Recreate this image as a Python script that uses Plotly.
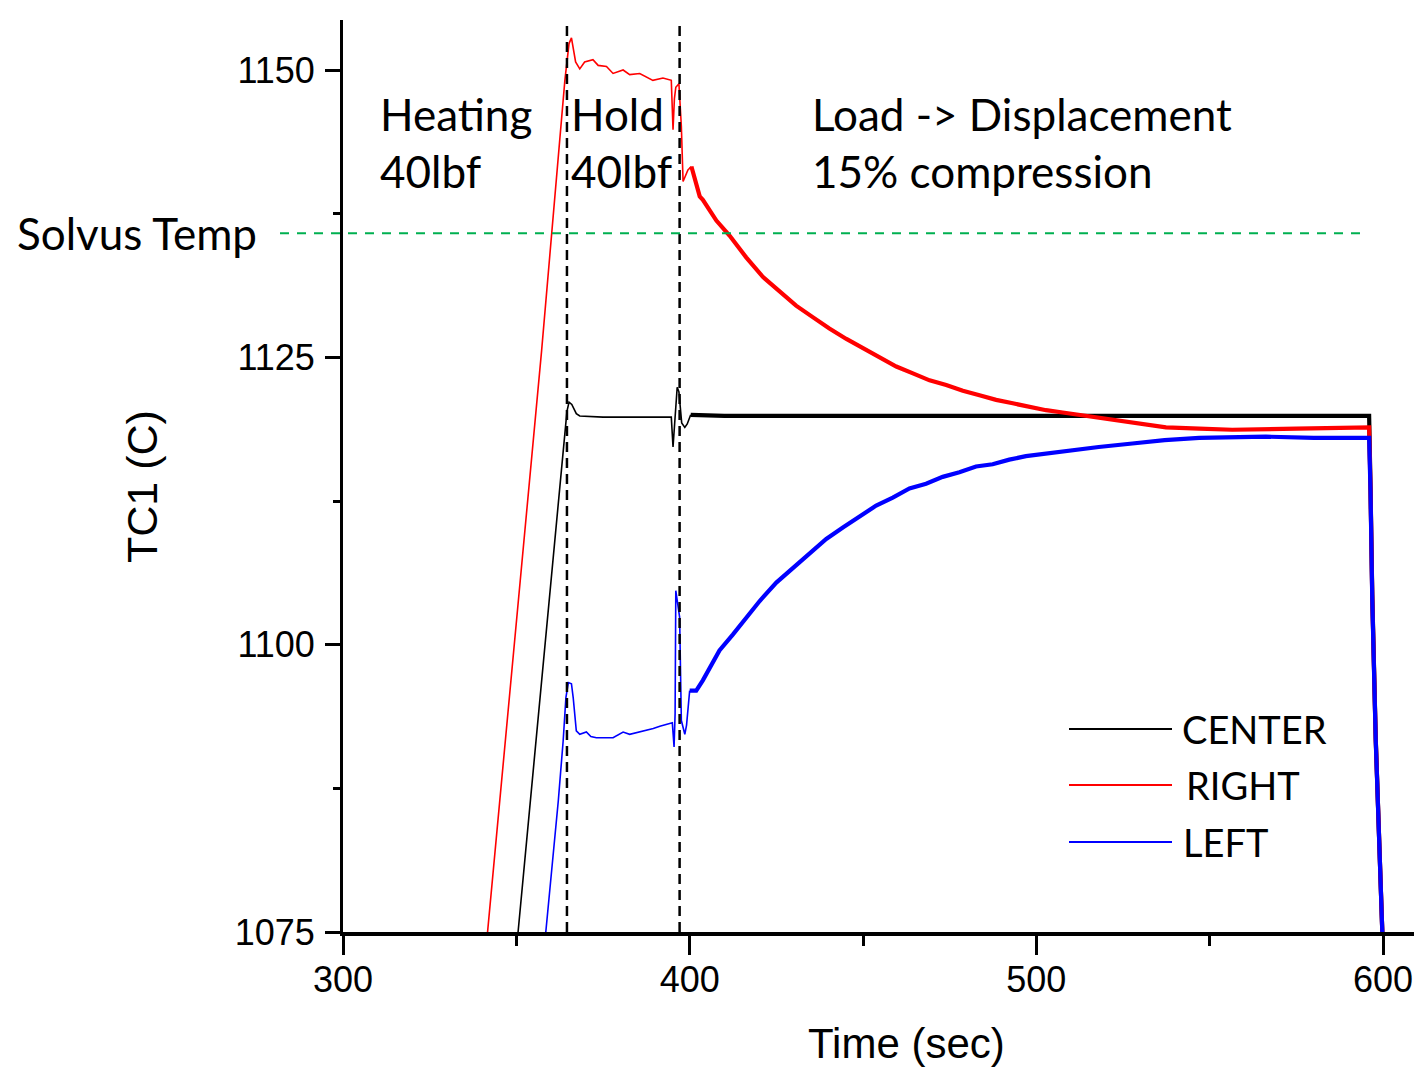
import plotly.graph_objects as go

# ---------------- data ----------------
series_names = ["CENTER", "RIGHT", "LEFT"]
series_colors = ["#000000", "#FF0000", "#0000FF"]

# CENTER: ramp + hold (thin) and load + cool-down (noisy band)
center_t_hold = [350.5, 364.6, 365.2, 366.0, 367.3, 368.3, 375.0, 385.0, 394.7, 395.2, 395.6,
                 396.4, 396.9, 397.3, 397.7, 398.6, 399.3, 400.3]
center_v_hold = [1075.0, 1120.3, 1121.1, 1120.9, 1120.1, 1119.9, 1119.8, 1119.8, 1119.8, 1117.2, 1119.0,
                 1122.4, 1122.0, 1120.4, 1119.3, 1118.9, 1119.2, 1120.0]
center_t_load = [400.3, 410.0, 450.0, 500.0, 550.0, 596.0, 596.4, 596.9, 597.9, 598.8, 599.8]
center_v_load = [1120.0, 1119.9, 1119.9, 1119.9, 1119.9, 1119.9, 1113.7, 1104.4, 1091.9, 1082.6, 1075.0]

# RIGHT
right_t_hold = [341.7, 357.3, 364.0, 364.8, 365.2, 365.9, 366.4, 367.1, 368.3, 369.7, 372.1, 373.6,
                376.0, 377.9, 380.8, 382.7, 385.6, 389.4, 392.3, 394.7, 395.2, 395.6, 396.0, 396.9,
                397.6, 398.1, 399.5, 400.5]
right_v_hold = [1075.0, 1125.6, 1149.1, 1151.5, 1152.3, 1152.8, 1152.0, 1150.7, 1150.1, 1150.7, 1150.9, 1150.4,
                1150.3, 1149.7, 1150.0, 1149.6, 1149.7, 1149.1, 1149.3, 1149.1, 1144.8, 1147.5, 1148.5, 1148.8,
                1145.1, 1140.3, 1141.3, 1141.6]
right_t_load = [400.5, 402.9, 403.8, 407.7, 411.5, 416.3, 421.1, 425.9, 430.7, 435.5, 440.3, 445.2,
                450.0, 454.8, 459.6, 464.4, 469.2, 474.0, 478.8, 483.6, 488.4, 493.2, 498.0, 502.8,
                507.6, 512.4, 518.2, 527.0, 537.4, 547.0, 556.5, 575.0, 596.0, 596.4, 596.9, 597.9,
                598.8, 599.8]
right_v_load = [1141.6, 1139.0, 1138.7, 1136.9, 1135.6, 1133.7, 1132.0, 1130.7, 1129.5, 1128.5, 1127.5, 1126.6,
                1125.8, 1124.9, 1124.2, 1123.6, 1123.0, 1122.6, 1122.1, 1121.7, 1121.3, 1121.0, 1120.7, 1120.4,
                1120.2, 1120.0, 1119.7, 1119.3, 1118.9, 1118.8, 1118.7, 1118.8, 1118.9, 1113.5, 1104.2, 1091.8,
                1082.5, 1075.0]

# LEFT
left_t_hold = [358.5, 362.1, 363.5, 364.3, 365.0, 365.9, 366.4, 367.3, 368.3, 370.2, 371.5, 373.1,
               377.9, 380.8, 382.7, 385.5, 387.5, 389.5, 391.4, 394.2, 395.0, 395.5, 395.8, 396.0,
               396.4, 397.1, 397.6, 398.6, 399.1, 400.0]
left_v_hold = [1075.0, 1086.4, 1091.6, 1095.4, 1096.7, 1096.6, 1095.4, 1092.5, 1092.2, 1092.4, 1092.0, 1091.9,
               1091.9, 1092.4, 1092.2, 1092.4, 1092.5, 1092.7, 1092.9, 1093.1, 1093.2, 1091.1, 1094.0, 1104.7,
               1104.0, 1102.4, 1093.4, 1092.2, 1093.0, 1096.0]
left_t_load = [400.0, 401.9, 403.8, 405.8, 408.6, 412.5, 416.3, 420.2, 425.0, 429.8, 434.6, 439.4,
               444.2, 449.0, 453.8, 458.6, 463.4, 468.2, 473.0, 477.8, 482.6, 487.4, 492.2, 497.0,
               501.8, 506.6, 511.4, 518.0, 527.7, 537.0, 547.0, 566.2, 580.0, 596.0, 596.4, 596.9,
               597.9, 598.8, 599.8]
left_v_load = [1096.0, 1096.0, 1096.9, 1098.0, 1099.5, 1100.9, 1102.4, 1103.8, 1105.4, 1106.7, 1108.0, 1109.2,
               1110.2, 1111.2, 1112.1, 1112.8, 1113.6, 1114.0, 1114.6, 1115.0, 1115.5, 1115.7, 1116.1, 1116.4,
               1116.6, 1116.8, 1117.0, 1117.2, 1117.5, 1117.8, 1118.0, 1118.1, 1118.0, 1118.0, 1113.3, 1104.0,
               1091.7, 1082.4, 1075.0]

phase_lines_t = [364.6, 397.1]
solvus_temp = 1135.8

x_ticks = [300, 400, 500, 600]
y_ticks = [1075, 1100, 1125, 1150]

phase_labels = [["Heating", "40lbf"], ["Hold", "40lbf"], ["Load -> Displacement", "15% compression"]]

# ---------------- layout geometry ----------------
# the page's body margin is removed (post_script), so figure pixels == screen pixels
W, H = 1416, 1070
ML, MT = 343, 20
MR = W - 1414
MB = H - 932
PW, PH = W - ML - MR, H - MT - MB
Y0, Y1 = 1075, 1075 + PH * 75 / 862


def px(xs):  # screen x -> paper
    return (xs - ML) / PW


def py(ys):  # screen y -> paper
    return (H - MB - ys) / PH


fig = go.Figure()

holds = [(center_t_hold, center_v_hold), (right_t_hold, right_v_hold), (left_t_hold, left_v_hold)]
loads = [(center_t_load, center_v_load), (right_t_load, right_v_load), (left_t_load, left_v_load)]

for (t, v), name, col in zip(holds, series_names, series_colors):
    fig.add_trace(go.Scatter(x=t, y=v, mode="lines", name=name, showlegend=False,
                             line=dict(color=col, width=1.6)))
for (t, v), name, col in zip(loads, series_names, series_colors):
    fig.add_trace(go.Scatter(x=t, y=v, mode="lines", name=name, showlegend=False,
                             line=dict(color=col, width=4.2)))

# phase separation dashed lines
for t in phase_lines_t:
    fig.add_shape(type="line", xref="x", yref="paper", x0=t, x1=t, y0=0, y1=1,
                  line=dict(color="black", width=2.5, dash="10px,6px"))

# solvus line (extends left of the axis)
ys = (solvus_temp - Y0) / (Y1 - Y0)
fig.add_shape(type="line", xref="paper", yref="paper", x0=px(280), x1=px(1365), y0=ys, y1=ys,
              line=dict(color="#00B050", width=2, dash="9px,8px"))

label_font = dict(family="Lato, Carlito, Calibri, sans-serif", size=44, color="black")
legend_font = dict(family="Lato, Carlito, Calibri, sans-serif", size=38, color="black")

label_x = [378, 569, 810]
for (l1, l2), xl in zip(phase_labels, label_x):
    fig.add_annotation(text=l1, xref="paper", yref="paper", x=px(xl), y=py(114),
                       xanchor="left", yanchor="middle", showarrow=False, font=label_font)
    fig.add_annotation(text=l2, xref="paper", yref="paper", x=px(xl), y=py(171),
                       xanchor="left", yanchor="middle", showarrow=False, font=label_font)

fig.add_annotation(text="Solvus Temp", xref="paper", yref="paper", x=px(15), y=py(233),
                   xanchor="left", yanchor="middle", showarrow=False, font=label_font)

# manual legend
leg_y = [729, 785, 842]
leg_tx = [1180, 1184, 1181]
for name, col, yy, tx in zip(series_names, series_colors, leg_y, leg_tx):
    fig.add_shape(type="line", xref="paper", yref="paper", x0=px(1069), x1=px(1172),
                  y0=py(yy), y1=py(yy), line=dict(color=col, width=2))
    fig.add_annotation(text=name, xref="paper", yref="paper", x=px(tx), y=py(yy),
                       xanchor="left", yanchor="middle", showarrow=False, font=legend_font)

# axis titles
fig.add_annotation(text="Time (sec)", xref="paper", yref="paper", x=px(906), y=py(1043),
                   xanchor="center", yanchor="middle", showarrow=False,
                   font=dict(family="Liberation Sans, Arial, sans-serif", size=42, color="black"))
fig.add_annotation(text="TC1 (C)", xref="paper", yref="paper", x=px(142), y=py(487),
                   xanchor="center", yanchor="middle", showarrow=False, textangle=-90,
                   font=dict(family="Liberation Sans, Arial, sans-serif", size=43, color="black"))

tick_font = dict(family="Liberation Sans, Arial, sans-serif", size=36, color="black")

fig.update_layout(
    width=W, height=H,
    margin=dict(l=ML, r=MR, t=MT, b=MB),
    paper_bgcolor="white", plot_bgcolor="white",
    xaxis=dict(range=[300, 300 + PW * 300 / 1040], tickvals=x_ticks,
               ticktext=[str(v) for v in x_ticks],
               showgrid=False, zeroline=False, showline=True, linecolor="black", linewidth=4,
               ticks="outside", ticklen=19, tickwidth=3, tickcolor="black", tickfont=tick_font,
               ticklabelstandoff=-6,
               minor=dict(tickvals=[350, 450, 550], ticks="outside", ticklen=10, tickwidth=3,
                          tickcolor="black", showgrid=False)),
    yaxis=dict(range=[Y0, Y1], tickvals=y_ticks, ticktext=[str(v) for v in y_ticks],
               showgrid=False, zeroline=False, showline=True, linecolor="black", linewidth=3,
               ticks="outside", ticklen=15, tickwidth=3, tickcolor="black", tickfont=tick_font,
               ticklabelstandoff=3,
               minor=dict(tickvals=[1087.5, 1112.5, 1137.5], ticks="outside", ticklen=7, tickwidth=3,
                          tickcolor="black", showgrid=False)),
)

fig.write_html("out.html", config={"displayModeBar": False},
               post_script="document.body.style.margin='0';document.body.style.overflow='hidden';")
